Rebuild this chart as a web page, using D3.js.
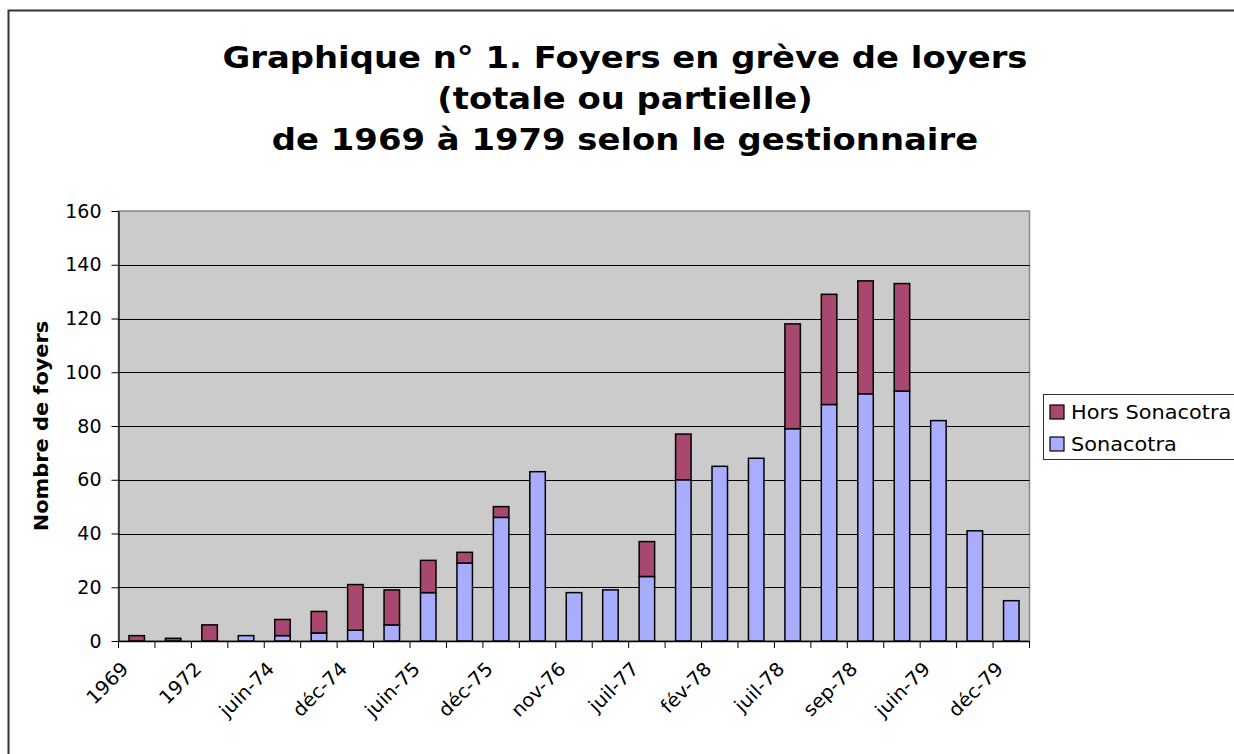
<!DOCTYPE html>
<html><head><meta charset="utf-8">
<script src="https://cdn.jsdelivr.net/npm/d3@7/dist/d3.min.js"></script>
<style>
html,body{margin:0;padding:0;background:#fff;}
svg{display:block;font-family:"DejaVu Sans",Verdana,sans-serif;}
</style></head>
<body>
<svg id="chart" width="1234" height="754"></svg>
<script>
const categories = ["1969","1971","1972","1973","juin-74","sep-74","déc-74","mars-75","juin-75","sep-75","déc-75","mars-76","nov-76","mars-77","juil-77","oct-77","fév-78","avr-78","juil-78","août-78","sep-78","déc-78","juin-79","sep-79","déc-79"];
const shownLabels = ["1969","1972","juin-74","déc-74","juin-75","déc-75","nov-76","juil-77","fév-78","juil-78","sep-78","juin-79","déc-79"];
const sonacotra = [0,0,0,2,2,3,4,6,18,29,46,63,18,19,24,60,65,68,79,88,92,93,82,41,15];
const horsSonacotra = [2,1,6,0,6,8,17,13,12,4,4,0,0,0,13,17,0,0,39,41,42,40,0,0,0];
const yTicks = [0,20,40,60,80,100,120,140,160];
const seriesNames = ["Hors Sonacotra","Sonacotra"];
const titleLines = ["Graphique n° 1. Foyers en grève de loyers","(totale ou partielle)","de 1969 à 1979 selon le gestionnaire"];
const yTitle = "Nombre de foyers";

const colSona = "#a9adff", colHors = "#a8476f";
const svg = d3.select("#chart");

function stretch(sel, factor){
  sel.each(function(){
    const len = this.getComputedTextLength();
    d3.select(this).attr("textLength", len*factor).attr("lengthAdjust","spacingAndGlyphs");
  });
}

// outer chart border
svg.append("rect").attr("x",8.5).attr("y",10.5).attr("width",1240).attr("height",760)
  .attr("fill","#fff").attr("stroke","#333").attr("stroke-width",2);

const L=118.5, R=1029.5, T=211, B=641;
const x = d3.scaleBand().domain(categories).range([L,R]).paddingInner(0.575).paddingOuter(0.2875);
const y = d3.scaleLinear().domain([0,160]).range([B,T]);

// plot area
svg.append("rect").attr("x",L).attr("y",T).attr("width",R-L).attr("height",B-T)
  .attr("fill","#cbcbcb").attr("stroke","#888").attr("stroke-width",1.5);

// gridlines
svg.append("g").selectAll("line").data(yTicks.filter(d=>d>0 && d<160)).join("line")
  .attr("x1",L).attr("x2",R).attr("y1",d=>Math.round(y(d))+0.5).attr("y2",d=>Math.round(y(d))+0.5)
  .attr("stroke","#000").attr("stroke-width",1);

// bars
const data = categories.map((c,i)=>({c, s:sonacotra[i], h:horsSonacotra[i]}));
const gb = svg.append("g");
gb.selectAll("rect.s").data(data.filter(d=>d.s>0)).join("rect").attr("class","s")
  .attr("x",d=>x(d.c)).attr("width",x.bandwidth())
  .attr("y",d=>y(d.s)).attr("height",d=>y(0)-y(d.s))
  .attr("fill",colSona).attr("stroke","#000").attr("stroke-width",1.5);
gb.selectAll("rect.h").data(data.filter(d=>d.h>0)).join("rect").attr("class","h")
  .attr("x",d=>x(d.c)).attr("width",x.bandwidth())
  .attr("y",d=>y(d.s+d.h)).attr("height",d=>y(d.s)-y(d.s+d.h))
  .attr("fill",colHors).attr("stroke","#000").attr("stroke-width",1.5);

// y axis
const yAxis = d3.axisLeft(y).tickValues(yTicks).tickSize(7).tickPadding(10).tickSizeOuter(0);
const gy = svg.append("g").attr("transform",`translate(${L},0)`).call(yAxis);
gy.select(".domain").attr("stroke","#000").attr("stroke-width",1.2);
gy.selectAll(".tick line").attr("stroke","#000");
gy.selectAll("text").attr("font-size",19).attr("font-family","DejaVu Sans").attr("fill","#000");

// x axis : ticks at category boundaries
const step = x.step();
const bounds = d3.range(categories.length+1).map(i=>L+i*step);
svg.append("line").attr("x1",L).attr("x2",R).attr("y1",B+0.5).attr("y2",B+0.5).attr("stroke","#000").attr("stroke-width",1.5);
svg.append("g").selectAll("line").data(bounds).join("line")
  .attr("x1",d=>d).attr("x2",d=>d).attr("y1",B).attr("y2",B+7).attr("stroke","#000");
const xl = svg.append("g").selectAll("text").data(categories.filter(c=>shownLabels.includes(c))).join("text")
  .attr("transform",d=>`translate(${x(d)+x.bandwidth()/2-7},${B+29}) rotate(-45)`)
  .attr("text-anchor","end").attr("font-size",19).attr("fill","#000").text(d=>d);
stretch(xl, 1.04);

// y title
const yt = svg.append("text").attr("transform",`translate(48,426) rotate(-90)`).attr("text-anchor","middle")
  .attr("font-size",19.5).attr("font-weight","bold").text(yTitle);
stretch(yt, 1.07);

// title
const tt = svg.append("g").selectAll("text").data(titleLines).join("text")
  .attr("x",625).attr("y",(d,i)=>68+i*41).attr("text-anchor","middle")
  .attr("font-size",30).attr("font-weight","bold").text(d=>d);
const l0 = tt.node().getComputedTextLength();
stretch(tt, 805/l0);

// legend
const lg = svg.append("g");
lg.append("rect").attr("x",1043.5).attr("y",394.5).attr("width",220).attr("height",65)
  .attr("fill","#fff").attr("stroke","#333").attr("stroke-width",1);
const lc=[colHors,colSona];
seriesNames.forEach((n,i)=>{
  lg.append("rect").attr("x",1050).attr("y",405+i*32).attr("width",14).attr("height",14)
    .attr("fill",lc[i]).attr("stroke","#000").attr("stroke-width",1.2);
  const t = lg.append("text").attr("x",1071).attr("y",419+i*32).attr("font-size",19.5).text(n);
  stretch(t, 1.07);
});
</script>
</body></html>
